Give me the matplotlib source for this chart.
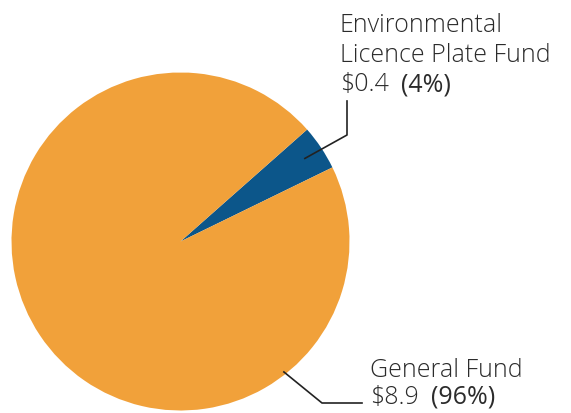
import numpy as np
import matplotlib.pyplot as plt

labels = ['Environmental\nLicence Plate Fund', 'General Fund']
values = [0.4, 8.9]
pct_labels = ['(4%)', '(96%)']
colors = ['#0C568A', '#F1A13A']

W, H = 571, 413
fig = plt.figure(figsize=(W / 100, H / 100), dpi=100)
ax = fig.add_axes([0, 0, 1, 1])

cx, cy, R = 180.5, H - 241.5, 169
start = 26.0
wedges, _ = ax.pie(values, colors=colors, startangle=start, counterclock=True,
                   center=(cx, cy), radius=R, frame=True,
                   wedgeprops=dict(linewidth=0))
ax.set_xlim(0, W)
ax.set_ylim(0, H)
ax.set_aspect('equal')
ax.axis('off')

txt = '#2b2b2b'
fam = ['Open Sans', 'DejaVu Sans']
fs = 18

# leader for small slice
w0 = wedges[0]
mid = np.deg2rad((w0.theta1 + w0.theta2) / 2)
p0 = (cx + 0.885 * R * np.cos(mid), cy + 0.885 * R * np.sin(mid))
ax.plot([p0[0], 347, 347], [p0[1], H - 135, H - 101], color='#222222', lw=1.2)

# leader for big slice
a1 = np.deg2rad(-51.6)
p1 = (cx + 0.985 * R * np.cos(a1), cy + 0.985 * R * np.sin(a1))
ax.plot([p1[0], 322, 362], [p1[1], H - 403, H - 403], color='#222222', lw=1.2)

# labels
lines = labels[0].split('\n')
ax.text(340, H - 32, lines[0], fontsize=fs, family=fam, weight='light', color=txt)
ax.text(340, H - 62, lines[1], fontsize=fs, family=fam, weight='light', color=txt)
t = ax.text(340, H - 91, f'${values[0]}', fontsize=fs, family=fam, weight='light', color=txt)
ax.annotate(pct_labels[0], xy=(1, 0), xycoords=t, xytext=(9, 0), textcoords='offset points',
            va='bottom', fontsize=fs, family=fam, weight='normal', color=txt)

ax.text(370, H - 377, labels[1], fontsize=fs, family=fam, weight='light', color=txt)
t2 = ax.text(370, H - 404, f'${values[1]}', fontsize=fs, family=fam, weight='light', color=txt)
ax.annotate(pct_labels[1], xy=(1, 0), xycoords=t2, xytext=(9, 0), textcoords='offset points',
            va='bottom', fontsize=fs, family=fam, weight='normal', color=txt)

fig.savefig('out.png', dpi=100)
